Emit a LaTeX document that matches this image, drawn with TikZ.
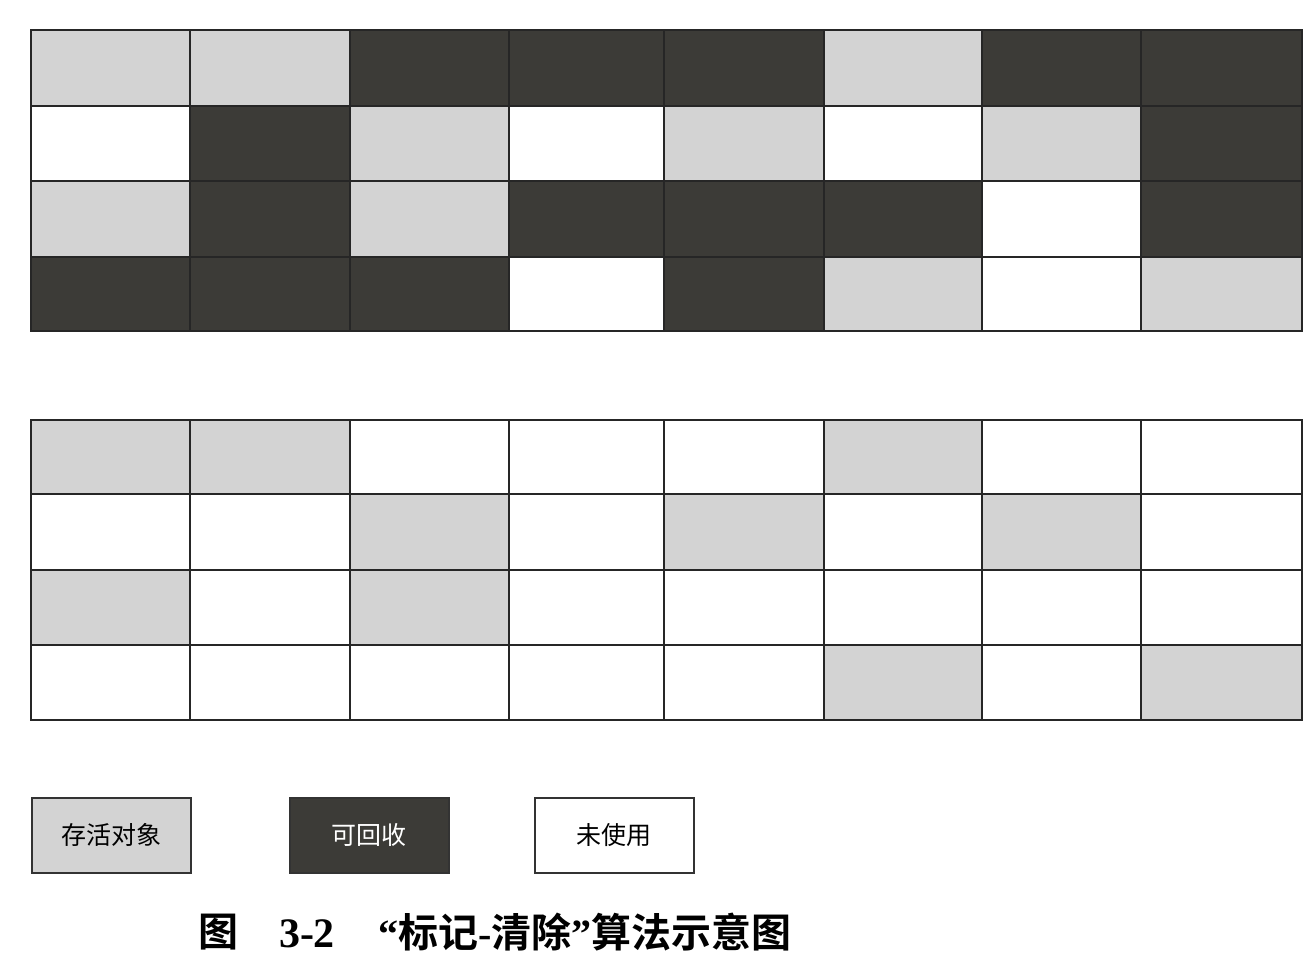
\documentclass[tikz,border=0pt]{standalone}
\usepackage{fontspec}
\newfontfamily\cjk{Noto Sans CJK SC}
\newfontfamily\cjkb{Noto Sans CJK SC Bold}
\newfontfamily\capser{Liberation Serif}
\definecolor{lg}{HTML}{D3D3D3}
\definecolor{dk}{HTML}{3C3B37}
\begin{document}
\begin{tikzpicture}[x=1pt,y=-1pt,
  cellline/.style={draw=black!85,line width=1.6pt},
  legendbox/.style={draw=black!80,line width=1.6pt,minimum width=159pt,minimum height=75pt,inner sep=0pt,anchor=north west,font=\cjk\fontsize{25}{25}\selectfont},
  captext/.style={inner sep=0pt,font=\cjkb\fontsize{40}{40}\selectfont}]
\useasboundingbox[fill=white] (0,0) rectangle (1312,962);
\def\xs{{31,190,350,509,664,824,982,1141,1302}}
\def\yt{{30,106,181,257,331}}
\def\yb{{420,494,570,645,720}}
% colour codes: 0 white, 1 light, 2 dark
\def\top{{{1,1,2,2,2,1,2,2},{0,2,1,0,1,0,1,2},{1,2,1,2,2,2,0,2},{2,2,2,0,2,1,0,1}}}
\foreach \r in {0,...,3}{
  \foreach \c in {0,...,7}{
    \pgfmathtruncatemacro{\v}{\top[\r][\c]}
    \pgfmathsetmacro{\xa}{\xs[\c]}
    \pgfmathsetmacro{\xb}{\xs[\c+1]}
    \pgfmathsetmacro{\ya}{\yt[\r]}
    \pgfmathsetmacro{\yy}{\yt[\r+1]}
    \pgfmathsetmacro{\yc}{\yb[\r]}
    \pgfmathsetmacro{\yd}{\yb[\r+1]}
    \ifcase\v
      \def\fc{white}\def\fb{white}
    \or
      \def\fc{lg}\def\fb{lg}
    \or
      \def\fc{dk}\def\fb{white}
    \fi
    \draw[cellline,fill=\fc] (\xa,\ya) rectangle (\xb,\yy);
    \draw[cellline,fill=\fb] (\xa,\yc) rectangle (\xb,\yd);
  }
}
\node[legendbox,fill=lg] (live) at (31,797) {存活对象};
\node[legendbox,fill=dk,text=white] (dead) at (289,797) {可回收};
\node[legendbox,fill=white] (free) at (534,797) {未使用};
\node[captext] (c1) at (218,932) {图};
\node[inner sep=0pt,font=\capser\bfseries\fontsize{42}{42}\selectfont] (c2) at (307,934) {3-2};
\node[captext,anchor=west] (c3) at (378,932) {{\capser\bfseries “}标记{\capser\bfseries -}清除{\capser\bfseries ”}算法示意图};
\end{tikzpicture}
\end{document}
